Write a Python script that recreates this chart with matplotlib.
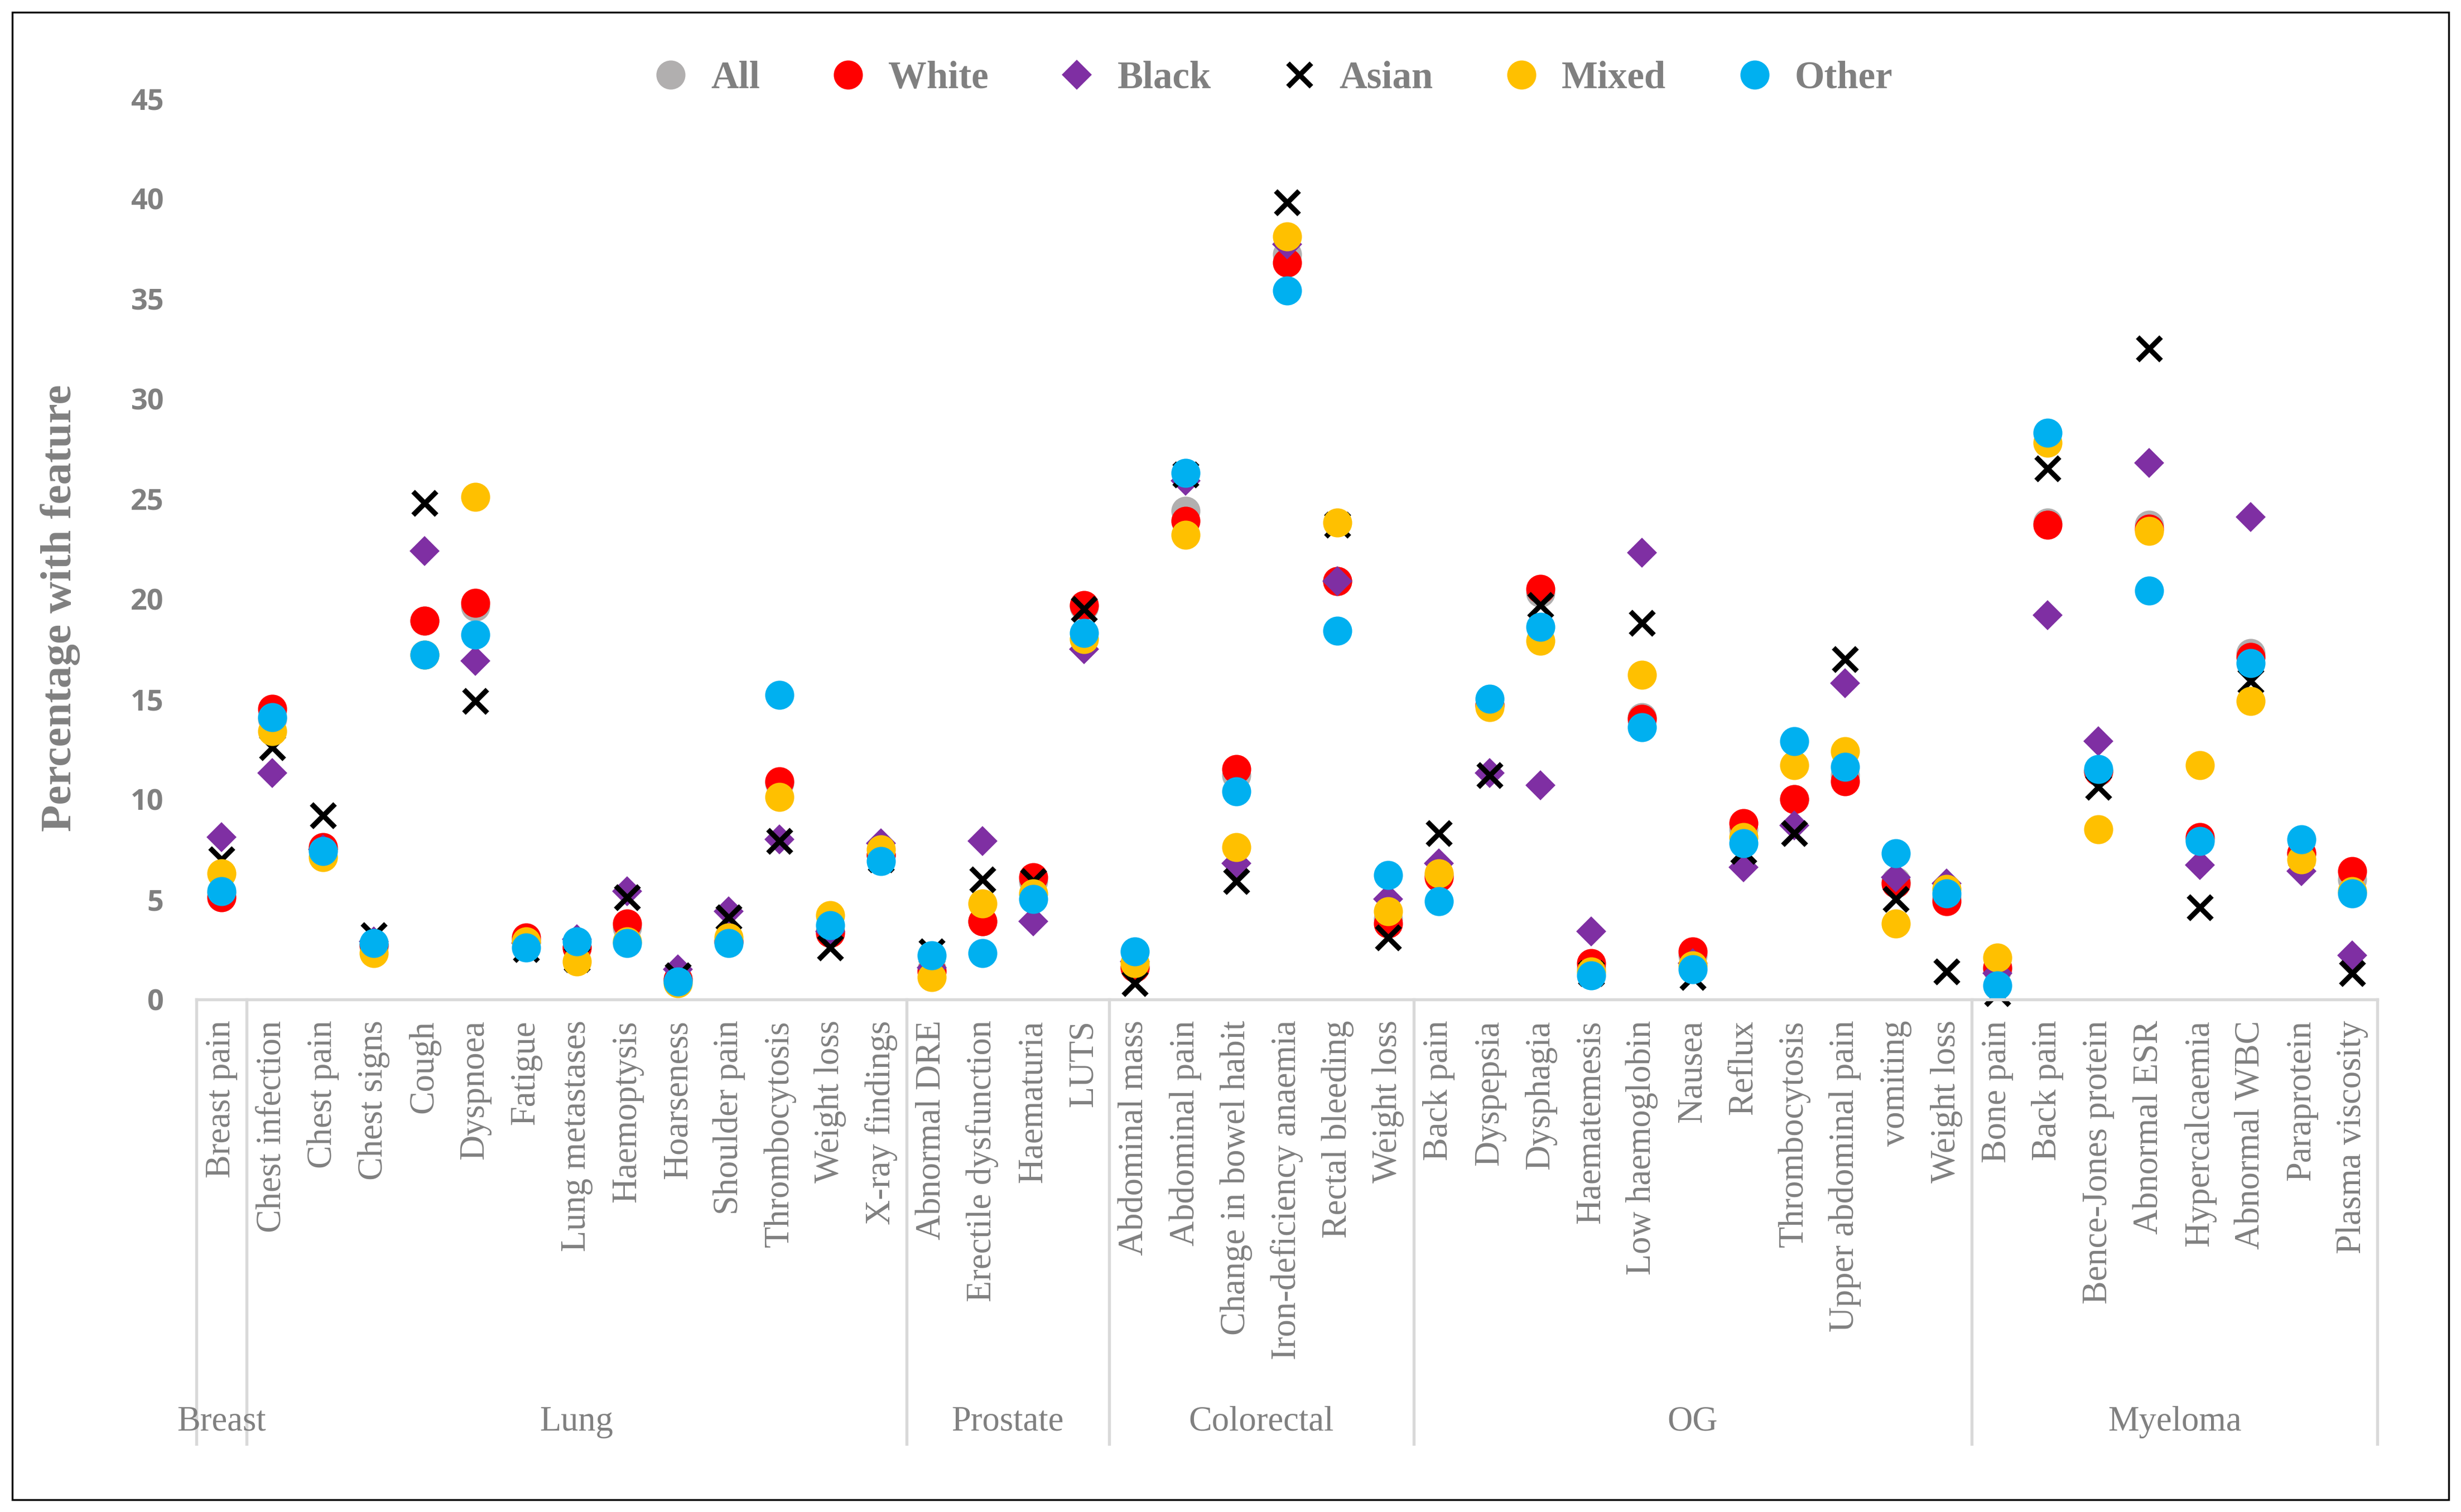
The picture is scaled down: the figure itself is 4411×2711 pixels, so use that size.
import matplotlib
matplotlib.use("Agg")
import matplotlib.pyplot as plt
import matplotlib.transforms as mtransforms
from matplotlib.patches import Rectangle

# features, grouped by cancer site
features = [
    "Breast pain",
    "Chest infection", "Chest pain", "Chest signs", "Cough", "Dyspnoea", "Fatigue",
    "Lung metastases", "Haemoptysis", "Hoarseness", "Shoulder pain", "Thrombocytosis",
    "Weight loss", "X-ray findings",
    "Abnormal DRE", "Erectile dysfunction", "Haematuria", "LUTS",
    "Abdominal mass", "Abdominal pain", "Change in bowel habit", "Iron-deficiency anaemia",
    "Rectal bleeding", "Weight loss",
    "Back pain", "Dyspepsia", "Dysphagia", "Haematemesis", "Low haemoglobin", "Nausea",
    "Reflux", "Thrombocytosis", "Upper abdominal pain", "vomiting", "Weight loss",
    "Bone pain", "Back pain", "Bence-Jones protein", "Abnormal ESR", "Hypercalcaemia",
    "Abnormal WBC", "Paraprotein", "Plasma viscosity",
]
groups = ["Breast", "Lung", "Prostate", "Colorectal", "OG", "Myeloma"]
group_sizes = [1, 13, 4, 6, 11, 8]

# percentage with feature, per ethnic group
all_ = [5.3, 14.0, 7.5, 2.7, 18.9, 19.6, 2.9, 2.6, 3.6, 1.0, 2.9, 10.8, 3.4, 7.2,
        1.5, 3.9, 5.9, 19.6,
        1.6, 24.4, 11.2, 37.2, 20.9, 4.0,
        6.2, 14.7, 20.3, 1.6, 14.1, 2.2, 8.5, 10.0, 11.2, 5.9, 5.1,
        1.5, 23.8, 11.4, 23.7, 8.0, 17.3, 7.3, 6.0]
white = [5.1, 14.5, 7.6, 2.7, 18.9, 19.8, 3.1, 2.6, 3.8, 1.0, 2.9, 10.9, 3.3, 7.2,
         1.4, 3.9, 6.1, 19.7,
         1.6, 23.9, 11.5, 36.8, 20.9, 3.8,
         6.1, 14.7, 20.5, 1.8, 14.0, 2.4, 8.8, 10.0, 10.9, 5.8, 4.9,
         1.6, 23.7, 11.4, 23.5, 8.1, 17.1, 7.3, 6.4]
black = [8.1, 11.3, 7.5, 2.9, 22.4, 16.9, 2.8, 3.0, 5.4, 1.5, 4.4, 8.0, 3.4, 7.8,
         1.6, 7.9, 3.9, 17.5,
         1.9, 25.9, 6.8, 37.7, 20.9, 5.0,
         6.8, 11.3, 10.7, 3.4, 22.3, 1.8, 6.6, 8.7, 15.8, 6.1, 5.8,
         1.3, 19.2, 12.9, 26.8, 6.7, 24.1, 6.4, 2.2]
asian = [7.0, 12.6, 9.2, 3.2, 24.8, 14.9, 2.5, 2.0, 5.1, 1.2, 4.1, 7.9, 2.6, 7.0,
         2.4, 6.0, 5.9, 19.5,
         0.8, 26.2, 5.9, 39.8, 23.7, 3.1,
         8.3, 11.2, 19.7, 1.3, 18.8, 1.1, 7.4, 8.3, 17.0, 5.0, 1.4,
         0.3, 26.5, 10.6, 32.5, 4.6, 15.9, 7.2, 1.3]
mixed = [6.3, 13.4, 7.1, 2.3, 17.2, 25.1, 2.9, 1.9, 2.9, 0.8, 3.1, 10.1, 4.2, 7.5,
         1.1, 4.8, 5.3, 18.0,
         1.8, 23.2, 7.6, 38.1, 23.8, 4.4,
         6.3, 14.6, 17.9, 1.4, 16.2, 1.7, 8.1, 11.7, 12.4, 3.8, 5.5,
         2.1, 27.8, 8.5, 23.4, 11.7, 14.9, 7.0, 5.4]
other = [5.4, 14.1, 7.4, 2.8, 17.2, 18.2, 2.6, 2.9, 2.8, 0.9, 2.8, 15.2, 3.7, 6.9,
         2.2, 2.3, 5.0, 18.3,
         2.4, 26.3, 10.4, 35.4, 18.4, 6.2,
         4.9, 15.0, 18.6, 1.2, 13.6, 1.5, 7.8, 12.9, 11.6, 7.3, 5.3,
         0.7, 28.3, 11.5, 20.4, 7.9, 16.8, 8.0, 5.3]

grey = "#808080"
line_grey = "#d9d9d9"
serif = ["Liberation Serif", "DejaVu Serif"]

fig = plt.figure(figsize=(4411 / 300, 2711 / 300), dpi=300)
ax = fig.add_axes([0.0797, 0.339, 0.8864, 0.596])

x = list(range(len(features)))
series = [
    ("All", all_, dict(marker="o", color="#b1afaf", markersize=11.5)),
    ("White", white, dict(marker="o", color="#ff0000", markersize=11.5)),
    ("Black", black, dict(marker="D", color="#7f2fa3", markersize=8)),
    ("Asian", asian, dict(marker="x", color="black", markersize=10, markeredgewidth=2.2)),
    ("Mixed", mixed, dict(marker="o", color="#ffc000", markersize=11.5)),
    ("Other", other, dict(marker="o", color="#00b0f0", markersize=11.5)),
]
for name, vals, style in series:
    ax.plot(x, vals, linestyle="none", label=name, clip_on=False, **style)

ax.set_xlim(-0.5, len(features) - 0.5)
ax.set_ylim(0, 45)
ax.set_yticks(range(0, 46, 5))
for side in ["top", "right", "left"]:
    ax.spines[side].set_visible(False)
ax.spines["bottom"].set_color(line_grey)
ax.spines["bottom"].set_linewidth(1.3)

ax.tick_params(axis="y", length=0, pad=14, labelcolor=grey)
for lab in ax.get_yticklabels():
    lab.set_fontfamily(["Open Sans", "DejaVu Sans"])
    lab.set_fontweight("bold")
    lab.set_fontsize(12.5)

ax.set_xticks(x)
ax.set_xticklabels(features, rotation=90, ha="center", va="top",
                   fontfamily=serif, fontsize=15, color=grey)
ax.tick_params(axis="x", length=0, pad=9)

ax.set_ylabel("Percentage with feature", fontfamily=serif, fontsize=19,
              fontweight="bold", color=grey)
ax.yaxis.set_label_coords(-0.053, 0.434)

# group separators and group names below the axis
trans = mtransforms.blended_transform_factory(ax.transData, ax.transAxes)
edges = [-0.5]
for n in group_sizes:
    edges.append(edges[-1] + n)
for e in edges:
    ax.plot([e, e], [0, -0.493], transform=trans, color=line_grey,
            linewidth=1.3, clip_on=False)
for i, g in enumerate(groups):
    mid = (edges[i] + edges[i + 1]) / 2
    ax.text(mid, -0.469, g, transform=trans, ha="center", va="center",
            fontfamily=serif, fontsize=15, color=grey)

leg = fig.legend(loc="center", bbox_to_anchor=(0.513, 0.948), ncol=6,
                 frameon=False, handletextpad=0.05, columnspacing=1.3,
                 prop={"family": serif, "size": 16.5, "weight": "bold"})
for t in leg.get_texts():
    t.set_color(grey)

fig.patches.append(Rectangle((0.005, 0.008), 0.99, 0.984, transform=fig.transFigure,
                             fill=False, edgecolor="black", linewidth=0.8))

fig.savefig("out.png", dpi=300)
